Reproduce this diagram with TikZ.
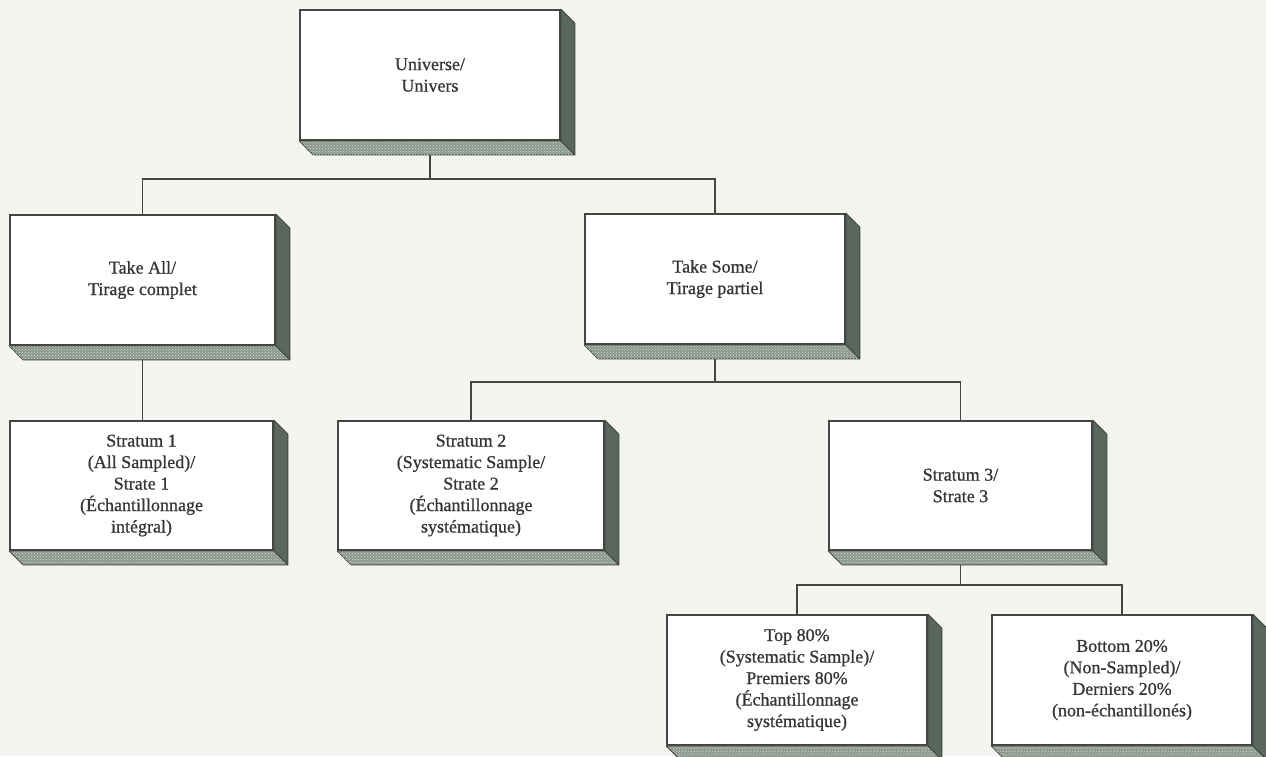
\documentclass[tikz,border=0pt]{standalone}
\usepackage{fontspec}
\setmainfont{Liberation Serif}[FakeBold=0.8]
\usetikzlibrary{patterns}
\definecolor{bg}{HTML}{F4F4F1}
\definecolor{ink}{HTML}{343634}
\definecolor{edge}{HTML}{434643}
\definecolor{sidefc}{HTML}{5A675C}
\definecolor{botfc}{HTML}{8C998D}
\definecolor{dotc}{HTML}{D6DBD6}
\pgfdeclarelayer{background}
\pgfdeclarelayer{shade}
\pgfsetlayers{background,shade,main}
\tikzset{
  boxnode/.style={draw=edge, line width=1.7pt, fill=white, rectangle,
    minimum height=130pt, align=center, text=ink, inner sep=0pt,
    font=\fontsize{18}{21.5}\selectfont},
  conn/.style={draw=edge, line width=1.4pt},
  sideface/.style={fill=sidefc, draw=edge, line width=0.8pt, line join=round},
  botface/.style={fill=botfc, draw=edge, line width=0.8pt, line join=round},
  dotface/.style={pattern=crosshatch dots, pattern color=dotc},
}
\newcommand\boxshade[1]{%
  \begin{pgfonlayer}{shade}
    \filldraw[botface] (#1.south west) -- ([shift={(14pt,-14pt)}]#1.south west)
      -- ([shift={(14pt,-14pt)}]#1.south east) -- (#1.south east) -- cycle;
    \fill[dotface] (#1.south west) -- ([shift={(14pt,-14pt)}]#1.south west)
      -- ([shift={(14pt,-14pt)}]#1.south east) -- (#1.south east) -- cycle;
    \filldraw[sideface] (#1.north east) -- ([shift={(14pt,-14pt)}]#1.north east)
      -- ([shift={(14pt,-14pt)}]#1.south east) -- (#1.south east) -- cycle;
  \end{pgfonlayer}}
\begin{document}
\begin{tikzpicture}[x=1pt,y=-1pt]
  \useasboundingbox (0,0) rectangle (1266,756);
  \begin{pgfonlayer}{background}
    \fill[bg] (0,0) rectangle (1266,756);
  \end{pgfonlayer}

  \node[boxnode, minimum width=260pt] (U) at (430,75) {Universe/\\Univers};
  \node[boxnode, minimum width=265pt] (TA) at (142.5,280) {Take All/\\Tirage complet};
  \node[boxnode, minimum width=260pt] (TS) at (715,279) {Take Some/\\Tirage partiel};
  \node[boxnode, minimum width=263pt, minimum height=129pt] (S1) at (141.5,485.5)
    {Stratum 1\\(All Sampled)/\\Strate 1\\(Échantillonnage\\intégral)};
  \node[boxnode, minimum width=266pt, minimum height=129pt] (S2) at (471,485.5)
    {Stratum 2\\(Systematic Sample/\\Strate 2\\(Échantillonnage\\systématique)};
  \node[boxnode, minimum width=263pt, minimum height=129pt] (S3) at (960.5,485.5)
    {Stratum 3/\\Strate 3};
  \node[boxnode, minimum width=260pt] (T80) at (797,680)
    {Top 80\%\\(Systematic Sample)/\\Premiers 80\%\\(Échantillonnage\\systématique)};
  \node[boxnode, minimum width=260pt] (B20) at (1122,680)
    {Bottom 20\%\\(Non-Sampled)/\\Derniers 20\%\\(non-échantillonés)};

  \boxshade{U}\boxshade{TA}\boxshade{TS}\boxshade{S1}
  \boxshade{S2}\boxshade{S3}\boxshade{T80}\boxshade{B20}

  \begin{pgfonlayer}{background}
    \coordinate (j1) at (U.south |- 0,179);
    \coordinate (j2) at (TS.south |- 0,382);
    \coordinate (j3) at (S3.south |- 0,585);
    \draw[conn] (U.south) -- (j1) -| (TA.north);
    \draw[conn] (j1) -| (TS.north);
    \draw[conn] (TA.south) -- (TA.south |- S1.north);
    \draw[conn] (TS.south) -- (j2) -| (S2.north);
    \draw[conn] (j2) -| (S3.north);
    \draw[conn] (S3.south) -- (j3) -| (T80.north);
    \draw[conn] (j3) -| (B20.north);
  \end{pgfonlayer}
\end{tikzpicture}
\end{document}
